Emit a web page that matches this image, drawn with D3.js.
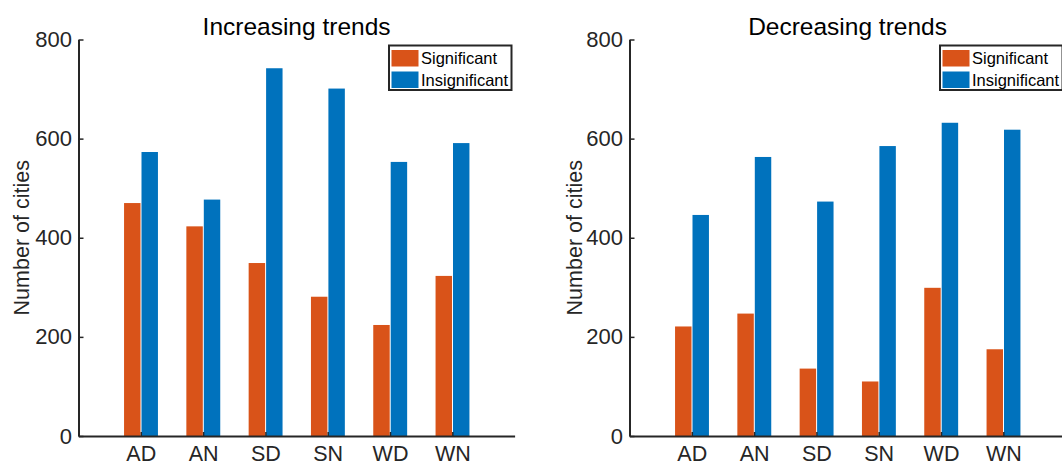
<!DOCTYPE html>
<html><head><meta charset="utf-8">
<script src="https://cdn.jsdelivr.net/npm/d3@7"></script>
<style>
html,body{margin:0;padding:0;background:#fff;}
svg{display:block;font-family:"Liberation Sans",Arial,Helvetica,sans-serif;}
</style></head>
<body>
<svg id="chart" width="1062" height="466"></svg>
<script>
const categories = ["AD","AN","SD","SN","WD","WN"];
const seriesNames = ["Significant","Insignificant"];
const seriesColors = ["#D95319","#0072BD"];
const yTicks = [0,200,400,600,800];
const incSignificant = [470,423,349,281,224,323];
const incInsignificant = [573,477,742,701,553,591];
const decSignificant = [221,247,136,110,299,175];
const decInsignificant = [446,563,473,585,632,618];

const panels = [
  {title:"Increasing trends", left:78.5, series:[incSignificant,incInsignificant], labelX:28.5},
  {title:"Decreasing trends", left:629.5, series:[decSignificant,decInsignificant], labelX:581.5}
];

const svg = d3.select("#chart");
const axisColor = "#262626";
const plotTop = 39.5, plotBottom = 436, unit = 62.3;

panels.forEach(p => {
  const x = d3.scaleLinear().domain([0,7]).range([p.left, p.left + 7*unit]);
  const y = d3.scaleLinear().domain([0,800]).range([plotBottom, plotTop]);
  const g = svg.append("g");
  const bw = x(0.264) - x(0);

  // bars
  p.series.forEach((vals, si) => {
    g.selectAll(null).data(vals).enter().append("rect")
      .attr("x", (d,i) => si === 0 ? x(i+1) - bw - 0.3 : x(i+1) + 0.7)
      .attr("y", d => y(d))
      .attr("width", bw)
      .attr("height", d => y(0) - y(d))
      .attr("fill", seriesColors[si]);
  });

  // y axis
  const yAxis = d3.axisLeft(y).tickValues(yTicks).tickSizeInner(-5).tickSizeOuter(0).tickPadding(6.5);
  const ya = g.append("g").attr("transform", `translate(${p.left},0)`).call(yAxis);
  ya.select(".domain").attr("stroke", axisColor).attr("stroke-width", 2);
  ya.selectAll(".tick line").attr("stroke", axisColor).attr("stroke-width", 1.5);
  ya.selectAll(".tick text").attr("fill", axisColor).attr("font-size", 22).attr("font-family","Liberation Sans, Arial, sans-serif");

  // x axis
  const xAxis = d3.axisBottom(x).tickValues(categories.map((c,i)=>i+1))
    .tickFormat((d)=>categories[d-1]).tickSizeInner(-4).tickSizeOuter(0).tickPadding(9.7);
  const xa = g.append("g").attr("transform", `translate(0,${plotBottom})`).call(xAxis);
  xa.select(".domain").attr("stroke", axisColor).attr("stroke-width", 2);
  xa.selectAll(".tick line").attr("stroke", axisColor).attr("stroke-width", 1.5);
  xa.selectAll(".tick text").attr("fill", axisColor).attr("font-size", 21.5).attr("font-family","Liberation Sans, Arial, sans-serif");

  // title
  g.append("text").attr("x", (x(0)+x(7))/2).attr("y", 34.5)
    .attr("text-anchor","middle").attr("font-size", 24.5).attr("fill","#000")
    .text(p.title);

  // y label
  g.append("text").attr("transform", `translate(${p.labelX},${(plotTop+plotBottom)/2}) rotate(-90)`)
    .attr("text-anchor","middle").attr("font-size", 21.5).attr("fill", axisColor)
    .text("Number of cities");

  // legend
  const lx = p.left + 310.5, ly = 45.5, lw = 122.5, lh = 44.5;
  const lg = g.append("g");
  lg.append("rect").attr("x", lx).attr("y", ly).attr("width", lw).attr("height", lh)
    .attr("fill","#fff").attr("stroke", axisColor).attr("stroke-width", 2);
  seriesNames.forEach((name, si) => {
    const ry = ly + 4.5 + si*21.5;
    lg.append("rect").attr("x", lx + 2.5).attr("y", ry).attr("width", 27).attr("height", 16.5)
      .attr("fill", seriesColors[si]);
    lg.append("text").attr("x", lx + 32).attr("y", ry + 14)
      .attr("font-size", 16.5).attr("fill", "#000").text(name);
  });
});
</script>
</body></html>
